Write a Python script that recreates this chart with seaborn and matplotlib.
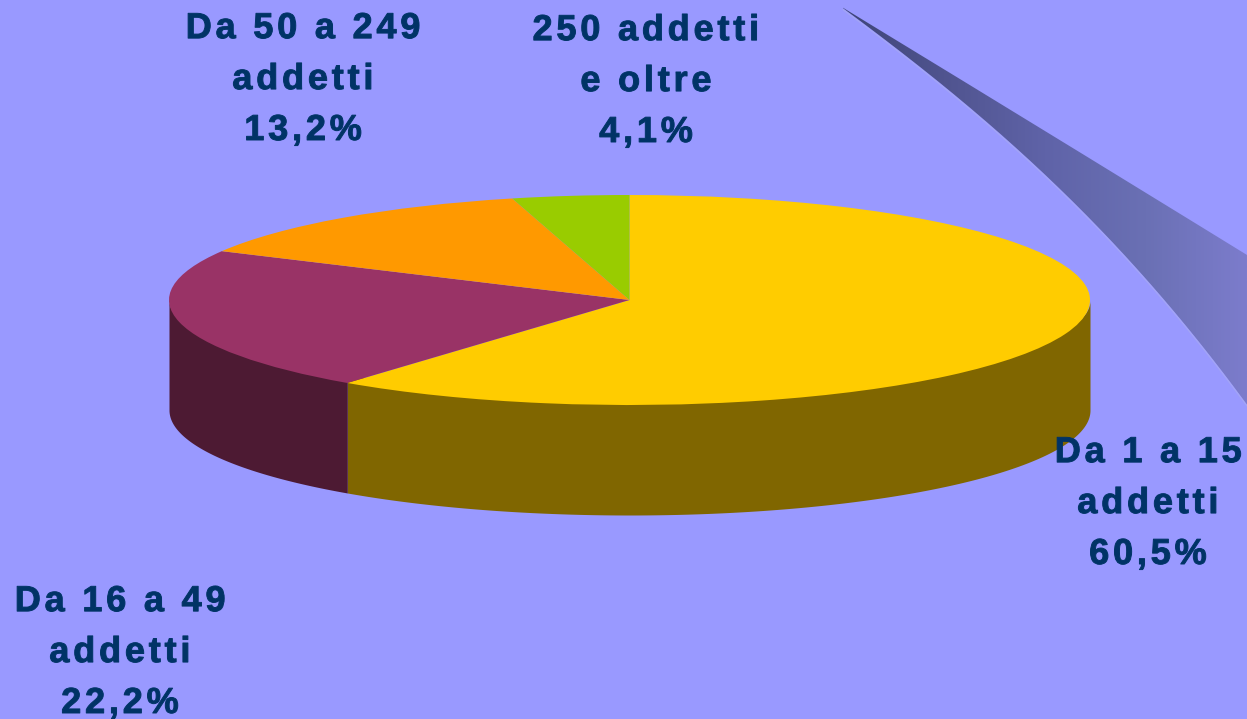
import numpy as np
import matplotlib
matplotlib.use('Agg')
import matplotlib.pyplot as plt
import seaborn as sns
from matplotlib.colors import LinearSegmentedColormap, to_rgb
from matplotlib.patches import PathPatch
from matplotlib.path import Path
from matplotlib.patheffects import AbstractPathEffect

# --- data ---
categories = ['Da 1 a 15\naddetti', 'Da 16 a 49\naddetti', 'Da 50 a 249\naddetti', '250 addetti\ne oltre']
values = [60.5, 22.2, 13.2, 4.1]
top_colors = ['#FFCC00', '#993366', '#FF9900', '#99CC00']

# --- settings ---
W, H = 1247, 719
CX, CY, RX, RY = 629.5, 300, 460.5, 105
DEPTH = 110 / RY
BG = '#9999FF'
TEXT_COLOR = '#003366'
label_pos = [(1148, 564), (120, 713), (303, 140), (646, 142)]

sns.set_theme(style='white')
plt.rcParams['font.family'] = ['Liberation Sans', 'DejaVu Sans']


def dx(px):
    return (np.asarray(px, dtype=float) - CX) / RX


def dy(py):
    return (CY - np.asarray(py, dtype=float)) / RY


class Tracking(AbstractPathEffect):
    # letter spacing and a bit of extra weight: moves the glyph outlines of each
    # line apart and strokes them, text stays text
    def __init__(self, em, stroke):
        super().__init__()
        self.amount = em * 100  # text paths come at 100 units per em
        self.stroke = stroke

    def draw_path(self, renderer, gc, tpath, affine, rgbFace=None):
        verts = tpath.vertices.copy()
        starts = np.flatnonzero(tpath.codes == Path.MOVETO)
        ends = np.append(starts[1:], len(verts))
        contours = sorted(zip(starts, ends), key=lambda c: verts[c[0]:c[1], 0].min())
        # contours overlapping in x belong to one glyph, wide gaps are spaces
        idx, right, slots = 0, None, []
        for s, e in contours:
            left = verts[s:e, 0].min()
            if right is not None and left > right - 1:
                idx += 2 if left - right > 18 else 1
            right = left if right is None else right
            right = max(right, verts[s:e, 0].max())
            slots.append((s, e, idx))
        for s, e, i in slots:
            verts[s:e, 0] += (i - idx / 2) * self.amount
        gc0 = renderer.new_gc()
        gc0.copy_properties(gc)
        gc0.set_foreground(rgbFace)
        gc0.set_linewidth(self.stroke)
        renderer.draw_path(gc0, Path(verts, tpath.codes), affine, rgbFace)
        gc0.restore()


fig, ax = plt.subplots(figsize=(W / 100, H / 100), dpi=100)
fig.subplots_adjust(0, 0, 1, 1)
fig.patch.set_facecolor(BG)

palette = sns.color_palette(top_colors)
side_palette = [tuple(c * 0.5 for c in to_rgb(col)) for col in palette]

# swoosh in the top right corner
up_x = np.array([843, 963, 1063, 1163, 1247])
up_y = np.array([8, 80, 143, 203, 255])
low_x = np.array([843, 963, 1043, 1123, 1183, 1247])
low_y = np.array([8, 103, 170, 257, 320, 405])
xs = np.linspace(843, 1247, 200)
upper = np.polyval(np.polyfit(up_x, up_y, 2), xs)
lower = np.polyval(np.polyfit(low_x, low_y, 3), xs)
outline = np.r_[np.c_[dx(xs), dy(upper)], np.c_[dx(xs), dy(lower)][::-1]]
grad = LinearSegmentedColormap.from_list('swoosh', ['#3E4578', '#50548F', '#5F63A8', '#6A70B4', '#7C7CCC'])
img = ax.imshow(np.linspace(0, 1, 256)[None, :], cmap=grad, aspect='auto', zorder=1,
                extent=(dx(843), dx(1247), dy(410), dy(0)))
img.set_clip_path(PathPatch(Path(outline), transform=ax.transData))
ax.plot(dx(xs), dy(lower + 1.5), color='#A4A6F4', lw=0.8, zorder=1.5)

# side wall, visible only on the front half (top edge tucked under the pie)
cum = np.r_[0, np.cumsum(values)] / sum(values)
angles = 90 - 360 * cum
for i in range(len(values)):
    hi, lo = min(angles[i], 0), max(angles[i + 1], -180)
    if hi <= lo:
        continue
    t = np.radians(np.linspace(lo, hi, 200))
    ax.fill_between(np.cos(t), np.sin(t) * 0.9, np.sin(t) - DEPTH, color=side_palette[i], lw=0, zorder=2)

# top of the pie
wedges, _ = ax.pie(values, colors=palette, startangle=90, counterclock=False, radius=1,
                   wedgeprops={'linewidth': 0, 'zorder': 3})
ax.set_aspect('auto')
ax.set_xlim(dx(0), dx(W))
ax.set_ylim(dy(H), dy(0))
ax.set_axis_off()

for name, val, (x, y) in zip(categories, values, label_pos):
    label = f'{name}\n{val:.1f}%'.replace('.', ',')
    ax.text(dx(x), dy(y), label, color=TEXT_COLOR, fontsize=26, fontweight='bold',
            ha='center', va='baseline', ma='center', linespacing=1.59, zorder=5,
            path_effects=[Tracking(0.105, 0.7)])

fig.savefig('out.png', dpi=100, facecolor=BG)
